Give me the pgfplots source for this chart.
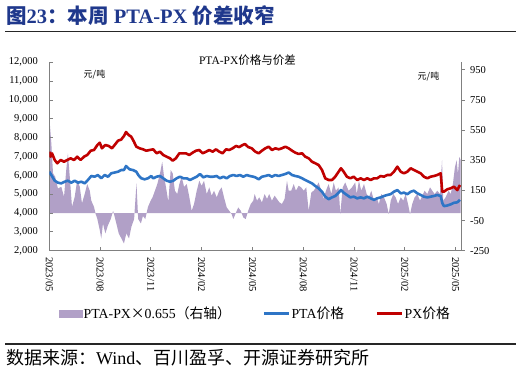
\documentclass[border=0pt]{standalone}
\usepackage{pgfplots}
\pgfplotsset{compat=1.18}
\usepackage{pgfplotstable}
\usepackage{fontspec}
\setmainfont{Liberation Serif}
\newfontfamily\cjk{Noto Sans CJK SC}
\definecolor{pxred}{RGB}{192,0,0}
\definecolor{ptablue}{RGB}{46,117,198}
\definecolor{sprd}{RGB}{177,160,199}
\definecolor{navy}{RGB}{31,56,140}
\definecolor{spine}{RGB}{128,128,128}

\pgfplotstableread{
m v
0.00 7255
0.08 6990
0.16 7170
0.32 6814
0.47 6640
0.67 6814
0.87 6724
1.06 6814
1.26 6905
1.46 6814
1.65 6990
1.85 6814
2.05 6990
2.24 7080
2.45 7308
2.64 7345
2.84 7610
2.98 7733
3.11 7435
3.31 7610
3.51 7560
3.70 7435
3.86 7610
4.06 7839
4.25 7900
4.41 8088
4.53 8300
4.69 8141
4.84 8051
5.00 7786
5.14 7520
5.34 7435
5.53 7382
5.73 7308
5.93 7345
6.14 7382
6.34 7170
6.54 7255
6.73 7080
6.93 6990
7.13 6905
7.29 6777
7.48 6905
7.68 7170
7.88 7170
8.07 7170
8.27 7080
8.47 7205
8.67 7308
8.86 7345
9.06 7170
9.26 7255
9.45 7345
9.65 7255
9.85 7382
10.04 7255
10.24 7170
10.44 7382
10.63 7345
10.83 7435
11.03 7560
11.22 7500
11.42 7610
11.56 7663
11.75 7500
11.96 7435
12.17 7255
12.37 7170
12.56 7308
12.76 7435
12.96 7520
13.15 7345
13.35 7435
13.55 7382
13.74 7435
13.94 7520
14.14 7435
14.34 7308
14.53 7205
14.73 7135
14.93 7170
15.12 6990
15.32 6905
15.52 6724
15.71 6640
15.91 6549
16.11 6283
16.30 5843
16.50 5753
16.70 5753
16.89 5928
17.09 6193
17.23 6375
17.39 6193
17.58 5928
17.78 5843
17.98 5928
18.19 5753
18.39 5843
18.59 5753
18.78 5843
18.98 5753
19.18 5843
19.37 5843
19.57 5965
19.77 5928
19.96 6018
20.16 6018
20.36 6193
20.56 6460
20.76 6193
20.95 6108
21.15 6193
21.35 6375
21.54 6283
21.74 6193
21.94 6108
22.13 5928
22.33 5843
22.53 5928
22.72 5965
22.92 6018
23.12 6108
23.21 5132
23.31 5132
23.51 5260
23.71 5312
23.90 5398
24.10 5220
24.26 5488
}\pxdata

\pgfplotstableread{
m v
0.00 6193
0.12 6018
0.32 5716
0.51 5610
0.71 5575
0.91 5662
1.10 5716
1.30 5610
1.50 5716
1.69 5610
1.89 5662
2.09 5575
2.28 5753
2.48 5965
2.68 5928
2.87 6018
3.07 5843
3.27 6018
3.47 5928
3.66 6108
3.86 6150
4.06 6193
4.25 6283
4.41 6283
4.53 6496
4.74 6319
4.94 6283
5.14 6193
5.27 6000
5.43 5843
5.63 5790
5.83 5843
6.02 5965
6.14 5843
6.34 5928
6.54 5965
6.73 5843
6.93 5716
7.13 5662
7.33 5716
7.52 5843
7.72 5928
7.92 5843
8.12 5843
8.31 5753
8.51 5843
8.71 5928
8.90 6071
9.10 5893
9.30 5965
9.49 5928
9.69 5928
9.88 5965
10.08 5843
10.28 5928
10.48 5843
10.67 5965
10.87 6018
11.07 5965
11.26 6018
11.46 5928
11.66 6018
11.85 5965
12.05 5928
12.17 5893
12.37 5790
12.56 5928
12.76 5965
12.96 6018
13.15 5928
13.35 6018
13.55 5965
13.74 6018
13.94 6071
14.14 6150
14.34 6018
14.53 5965
14.73 5928
14.93 5843
15.12 5753
15.32 5662
15.52 5575
15.71 5434
15.91 5312
16.11 5132
16.30 4868
16.50 4735
16.70 4830
16.89 4904
17.09 5080
17.23 5220
17.39 5080
17.58 4957
17.78 4830
17.98 4868
18.19 4780
18.39 4830
18.59 4780
18.78 4868
18.98 4780
19.18 4700
19.37 4780
19.57 4830
19.77 4904
19.96 4957
20.16 5000
20.36 5132
20.56 5220
20.76 5045
20.95 5080
21.15 5000
21.35 5132
21.54 5185
21.74 5045
21.94 4957
22.13 4868
22.33 4830
22.53 4868
22.72 4904
22.92 4957
23.12 4904
23.21 4543
23.31 4365
23.51 4400
23.71 4460
23.90 4543
24.10 4567
24.26 4700
}\ptadata

\pgfplotstableread{
m v
0.00 640
0.12 462
0.22 263
0.35 240
0.51 163
0.71 174
0.87 107
1.00 285
1.10 395
1.21 240
1.34 41
1.50 107
1.65 218
1.80 174
1.93 64
2.09 126
2.24 192
2.39 148
2.48 82
2.64 41
2.74 -7
2.84 -40
2.98 -113
3.07 -169
3.17 -69
3.31 -135
3.47 -80
3.63 -40
3.77 15
3.96 -69
4.10 -135
4.26 -169
4.41 -202
4.55 -135
4.71 -169
4.85 -91
5.01 -40
5.15 196
5.25 -40
5.41 -69
5.53 -20
5.67 -40
5.83 41
5.99 82
6.11 107
6.24 148
6.38 192
6.54 263
6.67 340
6.78 240
6.89 174
7.03 74
7.17 285
7.29 263
7.42 148
7.56 126
7.68 192
7.82 240
7.96 174
8.12 192
8.27 107
8.41 15
8.55 60
8.71 148
8.86 214
9.00 181
9.14 214
9.30 126
9.45 170
9.59 115
9.73 148
9.89 104
10.04 148
10.18 170
10.32 104
10.48 37
10.63 15
10.77 -7
10.87 -40
11.03 4
11.16 37
11.31 15
11.46 -29
11.60 -40
11.75 15
11.90 60
12.05 82
12.13 126
12.27 82
12.40 104
12.56 71
12.72 126
12.86 93
12.99 126
13.15 82
13.31 115
13.45 93
13.59 71
13.74 60
13.90 93
14.04 214
14.14 148
14.29 148
14.44 192
14.57 148
14.73 181
14.88 170
15.03 148
15.18 170
15.32 15
15.48 137
15.62 148
15.75 170
15.91 203
16.07 148
16.21 93
16.34 148
16.50 192
16.66 126
16.80 203
16.93 148
17.09 170
17.19 -7
17.33 170
17.48 203
17.68 148
17.88 170
18.07 203
18.16 126
18.29 214
18.43 148
18.59 192
18.75 126
18.88 104
19.02 148
19.18 82
19.34 104
19.47 60
19.61 126
19.77 104
19.93 60
20.05 -7
20.17 82
20.32 126
20.46 104
20.60 60
20.76 104
20.91 82
21.05 126
21.19 60
21.31 -7
21.44 60
21.58 104
21.74 126
21.90 82
22.03 115
22.17 148
22.33 126
22.49 170
22.62 148
22.76 126
22.92 148
23.08 126
23.20 351
23.27 82
23.41 104
23.59 148
23.71 126
23.84 192
23.96 303
24.06 351
24.14 258
24.22 373
24.30 351
}\spreaddata

\begin{document}
\begin{tikzpicture}
\path[use as bounding box] (0,0) rectangle (521bp,-374bp);

% title
\node[anchor=west, inner sep=0pt] at (6bp,-16bp)
  {\fontsize{20.5bp}{23bp}\selectfont\bfseries\color{navy}{\cjk 图}23{\cjk ：本周} PTA-PX {\cjk 价差收窄}};
\draw[line width=1.2bp, black!85] (5bp,-31.7bp) -- (516bp,-31.7bp);

% footer
\draw[line width=1.2bp, black!85] (5bp,-344bp) -- (516bp,-344bp);
\node[anchor=west, inner sep=0pt] at (6bp,-357.5bp)
  {\fontsize{18bp}{20bp}\selectfont{\cjk 数据来源：}Wind{\cjk 、百川盈孚、开源证券研究所}};

% spread (right axis)
\begin{axis}[
  at={(49.3bp,-250.7bp)}, anchor=south west,
  scale only axis, width=411.7bp, height=188.4bp,
  xmin=0, xmax=24.32, ymin=-250, ymax=1000,
  axis x line=none, axis y line*=right,
  ytick={-250,-50,150,350,550,750,950},
  tick align=outside, major tick length=3.5bp,
  axis line style={spine, line width=1bp},
  every tick/.style={spine, line width=0.8bp},
  /pgf/number format/assume math mode=true,
  yticklabel style={font=\fontsize{10.5bp}{12bp}\selectfont, xshift=2bp},
]
\addplot[fill=sprd, draw=none] table[x=m, y=v] {\spreaddata} \closedcycle;
\end{axis}

% prices (left axis)
\begin{axis}[
  at={(49.3bp,-250.7bp)}, anchor=south west,
  scale only axis, width=411.7bp, height=188.4bp,
  xmin=0, xmax=24.32, ymin=2000, ymax=12000,
  axis x line*=bottom, axis y line*=left,
  ytick={2000,3000,...,12000},
  scaled y ticks=false,
  xtick={0,3,...,24},
  xticklabels={2023/05,2023/08,2023/11,2024/02,2024/05,2024/08,2024/11,2025/02,2025/05},
  tick align=inside, major tick length=3.5bp,
  axis line style={spine, line width=1bp},
  every tick/.style={spine, line width=0.8bp},
  /pgf/number format/assume math mode=true,
  /pgf/number format/1000 sep={,},
  yticklabel style={font=\fontsize{10.5bp}{12bp}\selectfont, xshift=-8bp},
  xticklabel shift=3bp,
  xticklabel style={font=\fontsize{10.5bp}{12bp}\selectfont, rotate=-90, anchor=west},
  legend style={at={(0.5,-0.332)}, anchor=center, draw=none, fill=none,
    legend columns=3, font=\fontsize{13.8bp}{15bp}\selectfont,
    /tikz/every even column/.append style={column sep=30bp},
    nodes={inner sep=1.5bp}},
  legend image code/.code={\draw[#1, line width=2.6bp] (0bp,0bp) -- (25bp,0bp);},
]
\addlegendimage{legend image code/.code={\fill[sprd] (0bp,-3.5bp) rectangle (23bp,3.5bp);}}
\addlegendentry{PTA-PX{\cjk ×}0.655{\cjk （右轴）}}
\addplot[ptablue, line width=2.6bp, line join=round] table[x=m, y=v] {\ptadata};
\addlegendentry{PTA{\cjk 价格}}
\addplot[pxred, line width=2.6bp, line join=round] table[x=m, y=v] {\pxdata};
\addlegendentry{PX{\cjk 价格}}
\end{axis}

% chart title and units
\node at (247.5bp,-60bp) {\fontsize{11.5bp}{13bp}\selectfont PTA-PX{\cjk 价格与价差}};
\node at (94.5bp,-74.5bp) {\fontsize{9bp}{10bp}\selectfont\cjk 元/吨};
\node at (428.5bp,-77bp) {\fontsize{9bp}{10bp}\selectfont\cjk 元/吨};
\end{tikzpicture}
\end{document}
